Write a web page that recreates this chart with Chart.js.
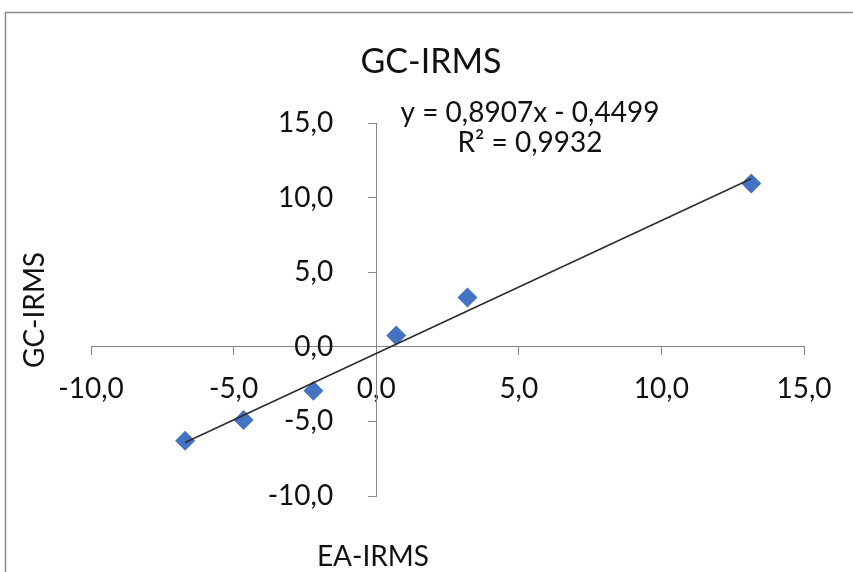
<!DOCTYPE html>
<html>
<head>
<meta charset="utf-8">
<script src="https://cdn.jsdelivr.net/npm/chart.js@4.4.1/dist/chart.umd.min.js"></script>
<style>
  html, body { margin: 0; padding: 0; background: #fff; }
  #wrap { width: 853px; height: 572px; }
</style>
</head>
<body>
<div id="wrap"><canvas id="chart"></canvas></div>
<script>
// values
const eaIrms = [-6.7, -4.65, -2.2, 0.7, 3.2, 13.15];
const gcIrms = [-6.3, -4.9, -2.95, 0.75, 3.3, 10.95];
const xTicks = [-10, -5, 0, 5, 10, 15];
const yTicks = [-10, -5, 0, 5, 10, 15];
const trendSlope = 0.8907;
const trendIntercept = -0.4499;
const trendText = ['y = 0,8907x - 0,4499', 'R² = 0,9932'];
const chartTitle = 'GC-IRMS';
const xTitle = 'EA-IRMS';
const yTitle = 'GC-IRMS';

var points = eaIrms.map(function (x, i) { return { x: x, y: gcIrms[i] }; });
var xMin = Math.min.apply(null, eaIrms);
var xMax = Math.max.apply(null, eaIrms);
var trend = [
    { x: xMin, y: trendSlope * xMin + trendIntercept },
    { x: xMax, y: trendSlope * xMax + trendIntercept }
];

function fmt(v) {
    return v.toFixed(1).replace('.', ',');
}

var FONT = 'Lato, "Open Sans", sans-serif';
var TEXT = '#111111';

var excelText = {
    id: 'excelText',
    beforeDraw: function (chart) {
        var ctx = chart.ctx;
        ctx.save();
        ctx.strokeStyle = '#8c8c8c';
        ctx.lineWidth = 1.5;
        ctx.strokeRect(5.5, 12.5, 900, 600);
        ctx.restore();
    },
    afterDraw: function (chart) {
        var ctx = chart.ctx;
        ctx.save();
        ctx.fillStyle = TEXT;
        ctx.textAlign = 'center';
        ctx.textBaseline = 'middle';
        ctx.font = '34px ' + FONT;
        ctx.fillText(chartTitle, 431, 62);
        ctx.font = '28px ' + FONT;
        ctx.fillText(trendText[0], 530, 113);
        ctx.fillText(trendText[1], 530, 143);
        ctx.fillText(xTitle, 373, 557);
        ctx.translate(35, 310);
        ctx.rotate(-Math.PI / 2);
        ctx.fillText(yTitle, 0, 0);
        ctx.restore();
    }
};

var ctx = document.getElementById('chart').getContext('2d');
var myChart = new Chart(ctx, {
    type: 'scatter',
    data: {
        datasets: [{
            label: 'data',
            data: points,
            pointStyle: 'rectRot',
            pointRadius: 10,
            pointHoverRadius: 10,
            backgroundColor: '#4472C4',
            borderColor: '#4472C4',
            borderWidth: 0,
            order: 1
        }, {
            type: 'line',
            label: 'trend',
            data: trend,
            borderColor: '#2b2b2b',
            borderWidth: 1.5,
            pointRadius: 0,
            fill: false,
            order: 0
        }]
    },
    options: {
        responsive: true,
        maintainAspectRatio: false,
        animation: false,
        layout: {
            padding: { left: 91, right: 49, top: 123, bottom: 76 }
        },
        plugins: {
            legend: { display: false },
            tooltip: { enabled: false },
            title: { display: false }
        },
        scales: {
            x: {
                type: 'linear',
                position: { y: 0 },
                min: -10,
                max: 15,
                afterFit: function (s) { s.height = 0; },
                afterBuildTicks: function (s) { s.ticks = xTicks.map(function (v) { return { value: v }; }); },
                grid: { drawOnChartArea: false, drawTicks: true, tickLength: 8, color: '#868686' },
                border: { display: true, color: '#868686', width: 1 },
                ticks: {
                    autoSkip: false,
                    maxRotation: 0,
                    padding: 17,
                    color: TEXT,
                    font: { family: FONT, size: 28 },
                    callback: function (v) { return fmt(v); }
                }
            },
            y: {
                type: 'linear',
                position: { x: 0 },
                min: -10,
                max: 15,
                afterFit: function (s) { s.width = 0; },
                afterBuildTicks: function (s) { s.ticks = yTicks.map(function (v) { return { value: v }; }); },
                grid: { drawOnChartArea: false, drawTicks: true, tickLength: 8, color: '#868686' },
                border: { display: true, color: '#868686', width: 1 },
                ticks: {
                    autoSkip: false,
                    color: TEXT,
                    font: { family: FONT, size: 28 },
                    // centred axis labels get no padding, so keep a gap to the axis line
                    callback: function (v) { return fmt(v) + '      '; }
                }
            }
        }
    },
    plugins: [excelText]
});
</script>
</body>
</html>
